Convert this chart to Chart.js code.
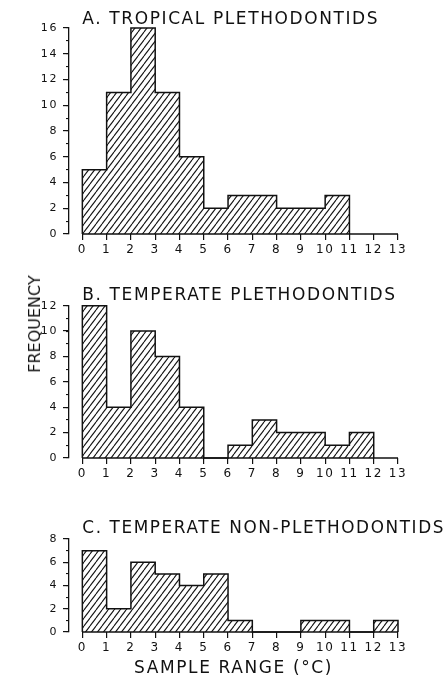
<!DOCTYPE html>
<html>
<head>
<meta charset="utf-8">
<script src="https://cdn.jsdelivr.net/npm/chart.js@4.4.1/dist/chart.umd.min.js"></script>
<style>
  body { margin: 0; background: #fff; }
  #fig { position: relative; width: 445px; height: 677px; overflow: hidden; background: #fff; }
  #fig canvas { position: absolute; left: 0; }
  #freq {
    position: absolute; left: 35px; top: 324px;
    transform: translate(-50%, -50%) rotate(-90deg);
    font: normal 16px 'DejaVu Sans', sans-serif; color: #111;
    white-space: nowrap; line-height: 1; letter-spacing: 0px;
  }
</style>
</head>
<body>
<div id="fig">
  <canvas id="chartA" width="445" height="258" style="top:0"></canvas>
  <canvas id="chartB" width="445" height="220" style="top:262px"></canvas>
  <canvas id="chartC" width="445" height="195" style="top:482px"></canvas>
  <div id="freq">FREQUENCY</div>
</div>
<script>
// Histogrammes : bins de 1 °C à partir de 0
const xTicks = [0, 1, 2, 3, 4, 5, 6, 7, 8, 9, 10, 11, 12, 13];

const tropicalPleth = [5, 11, 16, 11, 6, 2, 3, 3, 2, 2, 3];
const temperatePleth = [12, 4, 10, 8, 4, 0, 1, 3, 2, 2, 1, 2];
const temperateNonPleth = [7, 2, 6, 5, 4, 5, 1, 0, 0, 1, 1, 0, 1];

const yMaxA = 16;
const yMaxB = 12;
const yMaxC = 8;

const INK = '#111';
const FONT = "'DejaVu Sans', sans-serif";

Chart.defaults.font.family = FONT;
Chart.defaults.font.weight = 'normal';
Chart.defaults.color = INK;

// motif hachuré "/"
function hatchPattern() {
    const w = 6, h = 8;
    const c = document.createElement('canvas');
    c.width = w; c.height = h;
    const g = c.getContext('2d');
    g.strokeStyle = INK;
    g.lineWidth = 1.1;
    for (let k = -1; k <= 1; k++) {
        g.beginPath();
        g.moveTo(k * w, h);
        g.lineTo((k + 1) * w, 0);
        g.stroke();
    }
    return g.createPattern(c, 'repeat');
}

// contour en escalier à partir des effectifs
function histOutline(counts) {
    const pts = [{ x: 0, y: 0 }];
    counts.forEach((c, i) => {
        pts.push({ x: i, y: c });
        pts.push({ x: i + 1, y: c });
    });
    pts.push({ x: counts.length, y: 0 });
    return pts;
}

const panelStyle = {
    id: 'panelStyle',
    afterLayout(chart) {
        const t = chart.titleBlock;
        if (t) {
            t.left = chart.scales.x.getPixelForValue(xTicks[0]);
            t.right = chart.width;
        }
    },
    beforeDraw(chart) {
        chart.ctx.letterSpacing = '1.6px';
    },
    afterDatasetsDraw(chart) {
        const { ctx, scales: { x, y } } = chart;
        ctx.save();
        ctx.strokeStyle = INK;
        ctx.lineWidth = 1.3;
        ctx.beginPath();
        ctx.moveTo(x.getPixelForValue(xTicks[0]), y.bottom);
        ctx.lineTo(x.getPixelForValue(xTicks[xTicks.length - 1]), y.bottom);
        ctx.stroke();
        ctx.restore();
    }
};

function makePanel(id, title, counts, yMax, opts) {
    const xTitle = opts.xTitle || null;
    new Chart(document.getElementById(id), {
        type: 'line',
        data: {
            datasets: [{
                data: histOutline(counts),
                borderColor: INK,
                borderWidth: 1.5,
                backgroundColor: hatchPattern(),
                fill: 'origin',
                pointRadius: 0,
                tension: 0,
                clip: false
            }]
        },
        options: {
            responsive: false,
            animation: false,
            layout: { padding: { left: 0, right: 47, top: 0, bottom: 0 } },
            plugins: {
                legend: { display: false },
                tooltip: { enabled: false },
                title: {
                    display: true,
                    text: title,
                    align: 'start',
                    fullSize: false,
                    color: INK,
                    font: { size: 17, lineHeight: 1, weight: 'normal' },
                    padding: opts.titlePad
                }
            },
            scales: {
                x: {
                    type: 'linear',
                    min: -0.55,
                    max: xTicks[xTicks.length - 1],
                    afterBuildTicks(s) { s.ticks = xTicks.map(v => ({ value: v })); },
                    afterFit(s) { s.height = opts.xHeight; },
                    border: { display: false },
                    grid: { drawOnChartArea: false, tickLength: 6, color: INK, lineWidth: 1.2 },
                    ticks: { font: { size: 12 }, padding: 3, maxRotation: 0, autoSkip: false, color: INK },
                    title: {
                        display: !!xTitle,
                        text: xTitle || '',
                        color: INK,
                        font: { size: 17, lineHeight: 1, weight: 'normal' },
                        padding: { top: 0, bottom: 0 }
                    }
                },
                y: {
                    position: 'left',
                    weight: 1,
                    min: 0,
                    max: yMax,
                    afterFit(s) { s.width = 69; },
                    border: { display: true, color: INK, width: 1.3 },
                    grid: { drawOnChartArea: false, tickLength: 6, color: INK, lineWidth: 1.2 },
                    ticks: { stepSize: 2, font: { size: 11 }, padding: 5, color: INK }
                },
                yMinor: {
                    position: 'left',
                    weight: 0,
                    min: 0,
                    max: yMax,
                    afterFit(s) { s.width = 0; },
                    border: { display: false },
                    grid: { drawOnChartArea: false, tickLength: 3, color: INK, lineWidth: 1.1 },
                    ticks: { stepSize: 1, display: false }
                }
            }
        },
        plugins: [panelStyle]
    });
}

makePanel('chartA', 'A. TROPICAL PLETHODONTIDS', tropicalPleth, yMaxA,
    { titlePad: { top: 11, bottom: 0 }, xHeight: 24 });
makePanel('chartB', 'B. TEMPERATE PLETHODONTIDS', temperatePleth, yMaxB,
    { titlePad: { top: 25.5, bottom: 1.2 }, xHeight: 24 });
makePanel('chartC', 'C. TEMPERATE NON-PLETHODONTIDS', temperateNonPleth, yMaxC,
    { titlePad: { top: 38.5, bottom: 1.5 }, xHeight: 45, xTitle: 'SAMPLE RANGE (°C)' });
</script>
</body>
</html>
